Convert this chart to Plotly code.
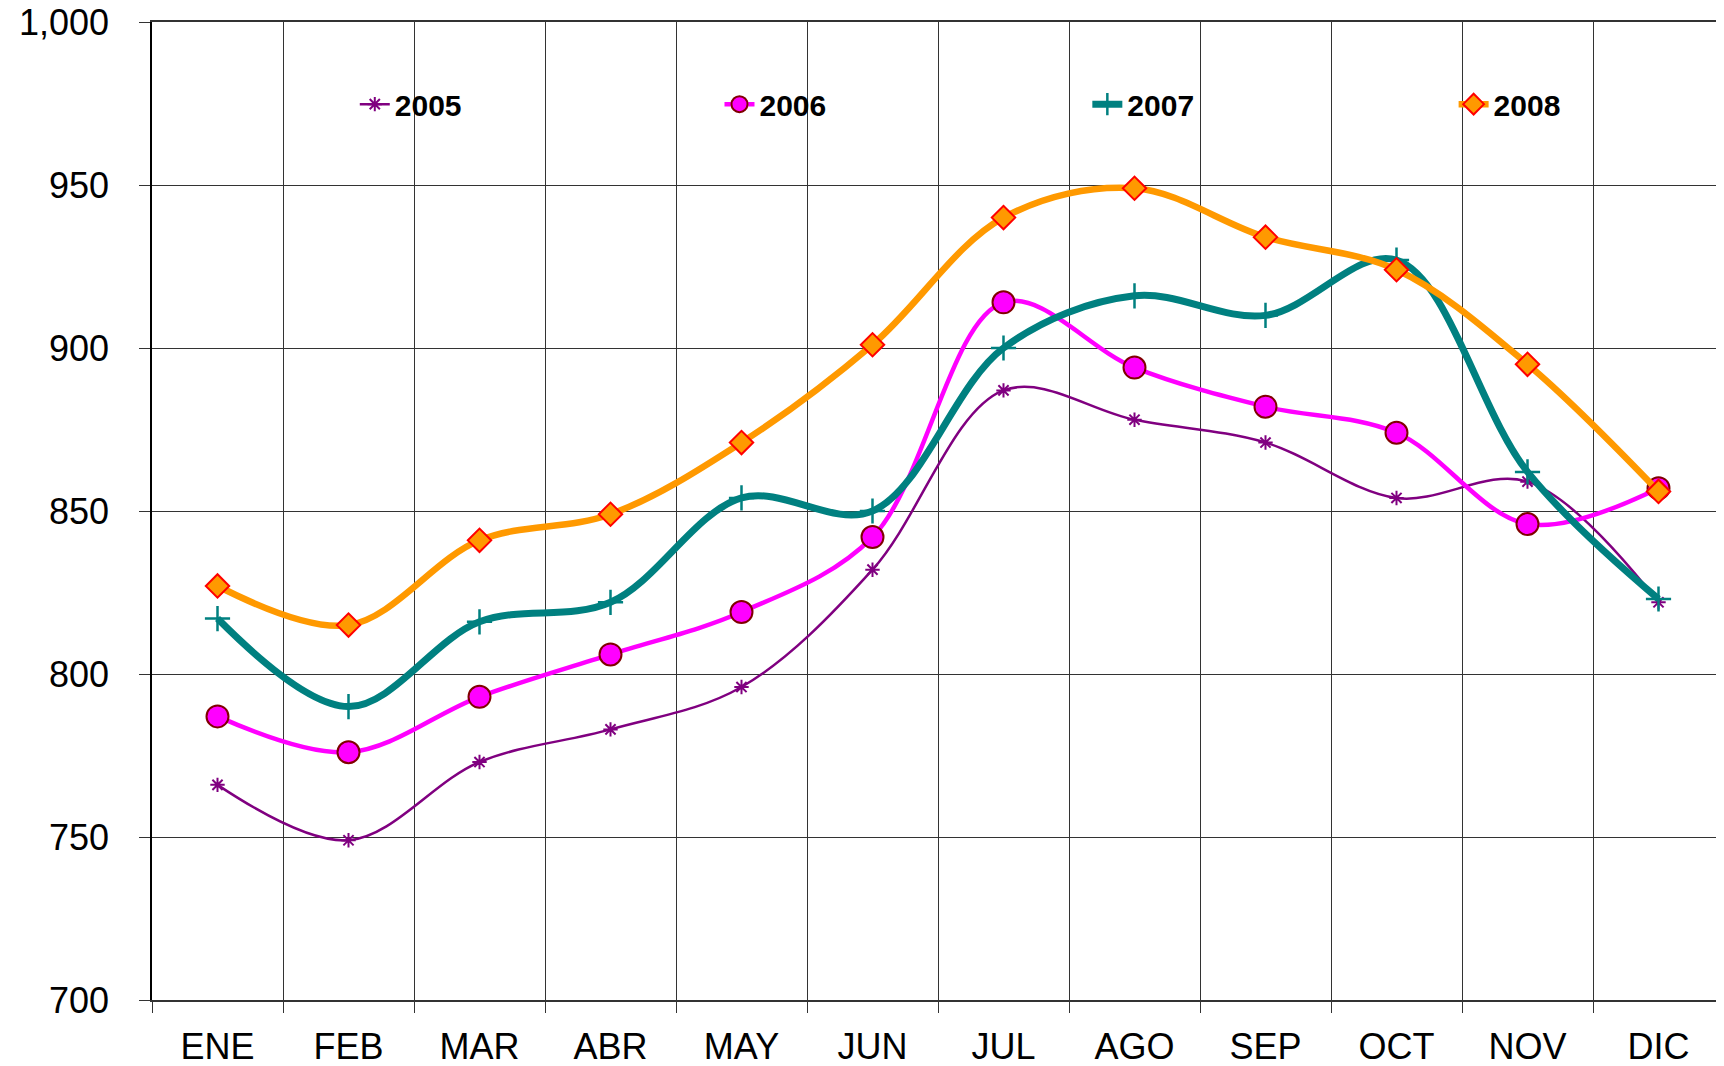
import plotly.graph_objects as go

MONTHS = ["ENE", "FEB", "MAR", "ABR", "MAY", "JUN", "JUL", "AGO", "SEP", "OCT", "NOV", "DIC"]

Y2005 = [766, 749, 773, 783, 796, 832, 887, 878, 871, 854, 859, 822]
Y2006 = [787, 776, 793, 806, 819, 842, 914, 894, 882, 874, 846, 857]
Y2007 = [817, 790, 816, 822, 854, 850, 900, 916, 910, 927, 862, 823]
Y2008 = [827, 815, 841, 849, 871, 901, 940, 949, 934, 924, 895, 856]

FONT = "Liberation Sans, Arial, sans-serif"

fig = go.Figure()

fig.add_trace(go.Scatter(
    x=MONTHS, y=Y2005, name="2005", mode="lines+markers", legend="legend",
    line=dict(color="#800080", width=2.5, shape="spline", smoothing=1.0),
    marker=dict(symbol="asterisk-open", size=12, color="#800080",
                line=dict(color="#800080", width=2)),
))
fig.add_trace(go.Scatter(
    x=MONTHS, y=Y2006, name="2006", mode="lines+markers", legend="legend2",
    line=dict(color="#FF00FF", width=4.5, shape="spline", smoothing=1.0),
    marker=dict(symbol="circle", size=22, color="#FF00FF",
                line=dict(color="#800000", width=2)),
))
fig.add_trace(go.Scatter(
    x=MONTHS, y=Y2007, name="2007", mode="lines+markers", legend="legend3",
    line=dict(color="#008080", width=7, shape="spline", smoothing=1.0),
    marker=dict(symbol="cross-thin-open", size=18, color="#008080",
                line=dict(color="#008080", width=2.5)),
))
fig.add_trace(go.Scatter(
    x=MONTHS, y=Y2008, name="2008", mode="lines+markers", legend="legend4",
    line=dict(color="#FF9900", width=6.5, shape="spline", smoothing=1.0),
    marker=dict(symbol="diamond", size=18, color="#FF9900",
                line=dict(color="#FF0000", width=2)),
))

# white band behind the legend hides the gridlines there
fig.add_shape(type="rect", xref="paper", yref="paper", x0=0.002, x1=1, y0=0.865, y1=0.968,
              fillcolor="white", line_width=0, layer="between")


def legend_at(x):
    return dict(
        orientation="h", x=x, xanchor="left", y=0.916, yanchor="middle",
        bgcolor="rgba(0,0,0,0)", font=dict(size=30, family=FONT, weight="bold"),
    )


# the page body adds an 8px offset, so margins are shifted by that
fig.update_layout(
    template="none",
    width=1724, height=1066,
    margin=dict(l=144, r=8, t=14, b=74),
    paper_bgcolor="white",
    plot_bgcolor="white",
    font=dict(family=FONT, color="black"),
    showlegend=True,
    legend=legend_at(0.129),
    legend2=legend_at(0.361),
    legend3=legend_at(0.595),
    legend4=legend_at(0.828),
)
fig.update_xaxes(
    type="category", tickson="boundaries", showgrid=True, gridcolor="#333333", gridwidth=1,
    ticks="outside", ticklen=11, tickcolor="#333333", automargin=False,
    showline=True, linecolor="#333333", linewidth=2, mirror=True,
    tickfont=dict(size=36, family=FONT), ticklabelstandoff=14, ticklabeloverflow="allow",
    range=[-0.5, 11.5],
)
fig.update_yaxes(
    range=[700, 1000], dtick=50, tickformat=",", showgrid=True, gridcolor="#333333", gridwidth=1,
    ticks="outside", ticklen=11, tickcolor="#333333", automargin=False,
    showline=True, linecolor="black", linewidth=1.5,
    tickfont=dict(size=36, family=FONT), ticklabelstandoff=23, zeroline=False,
    ticklabeloverflow="allow",
)

fig.write_html("out.html")
